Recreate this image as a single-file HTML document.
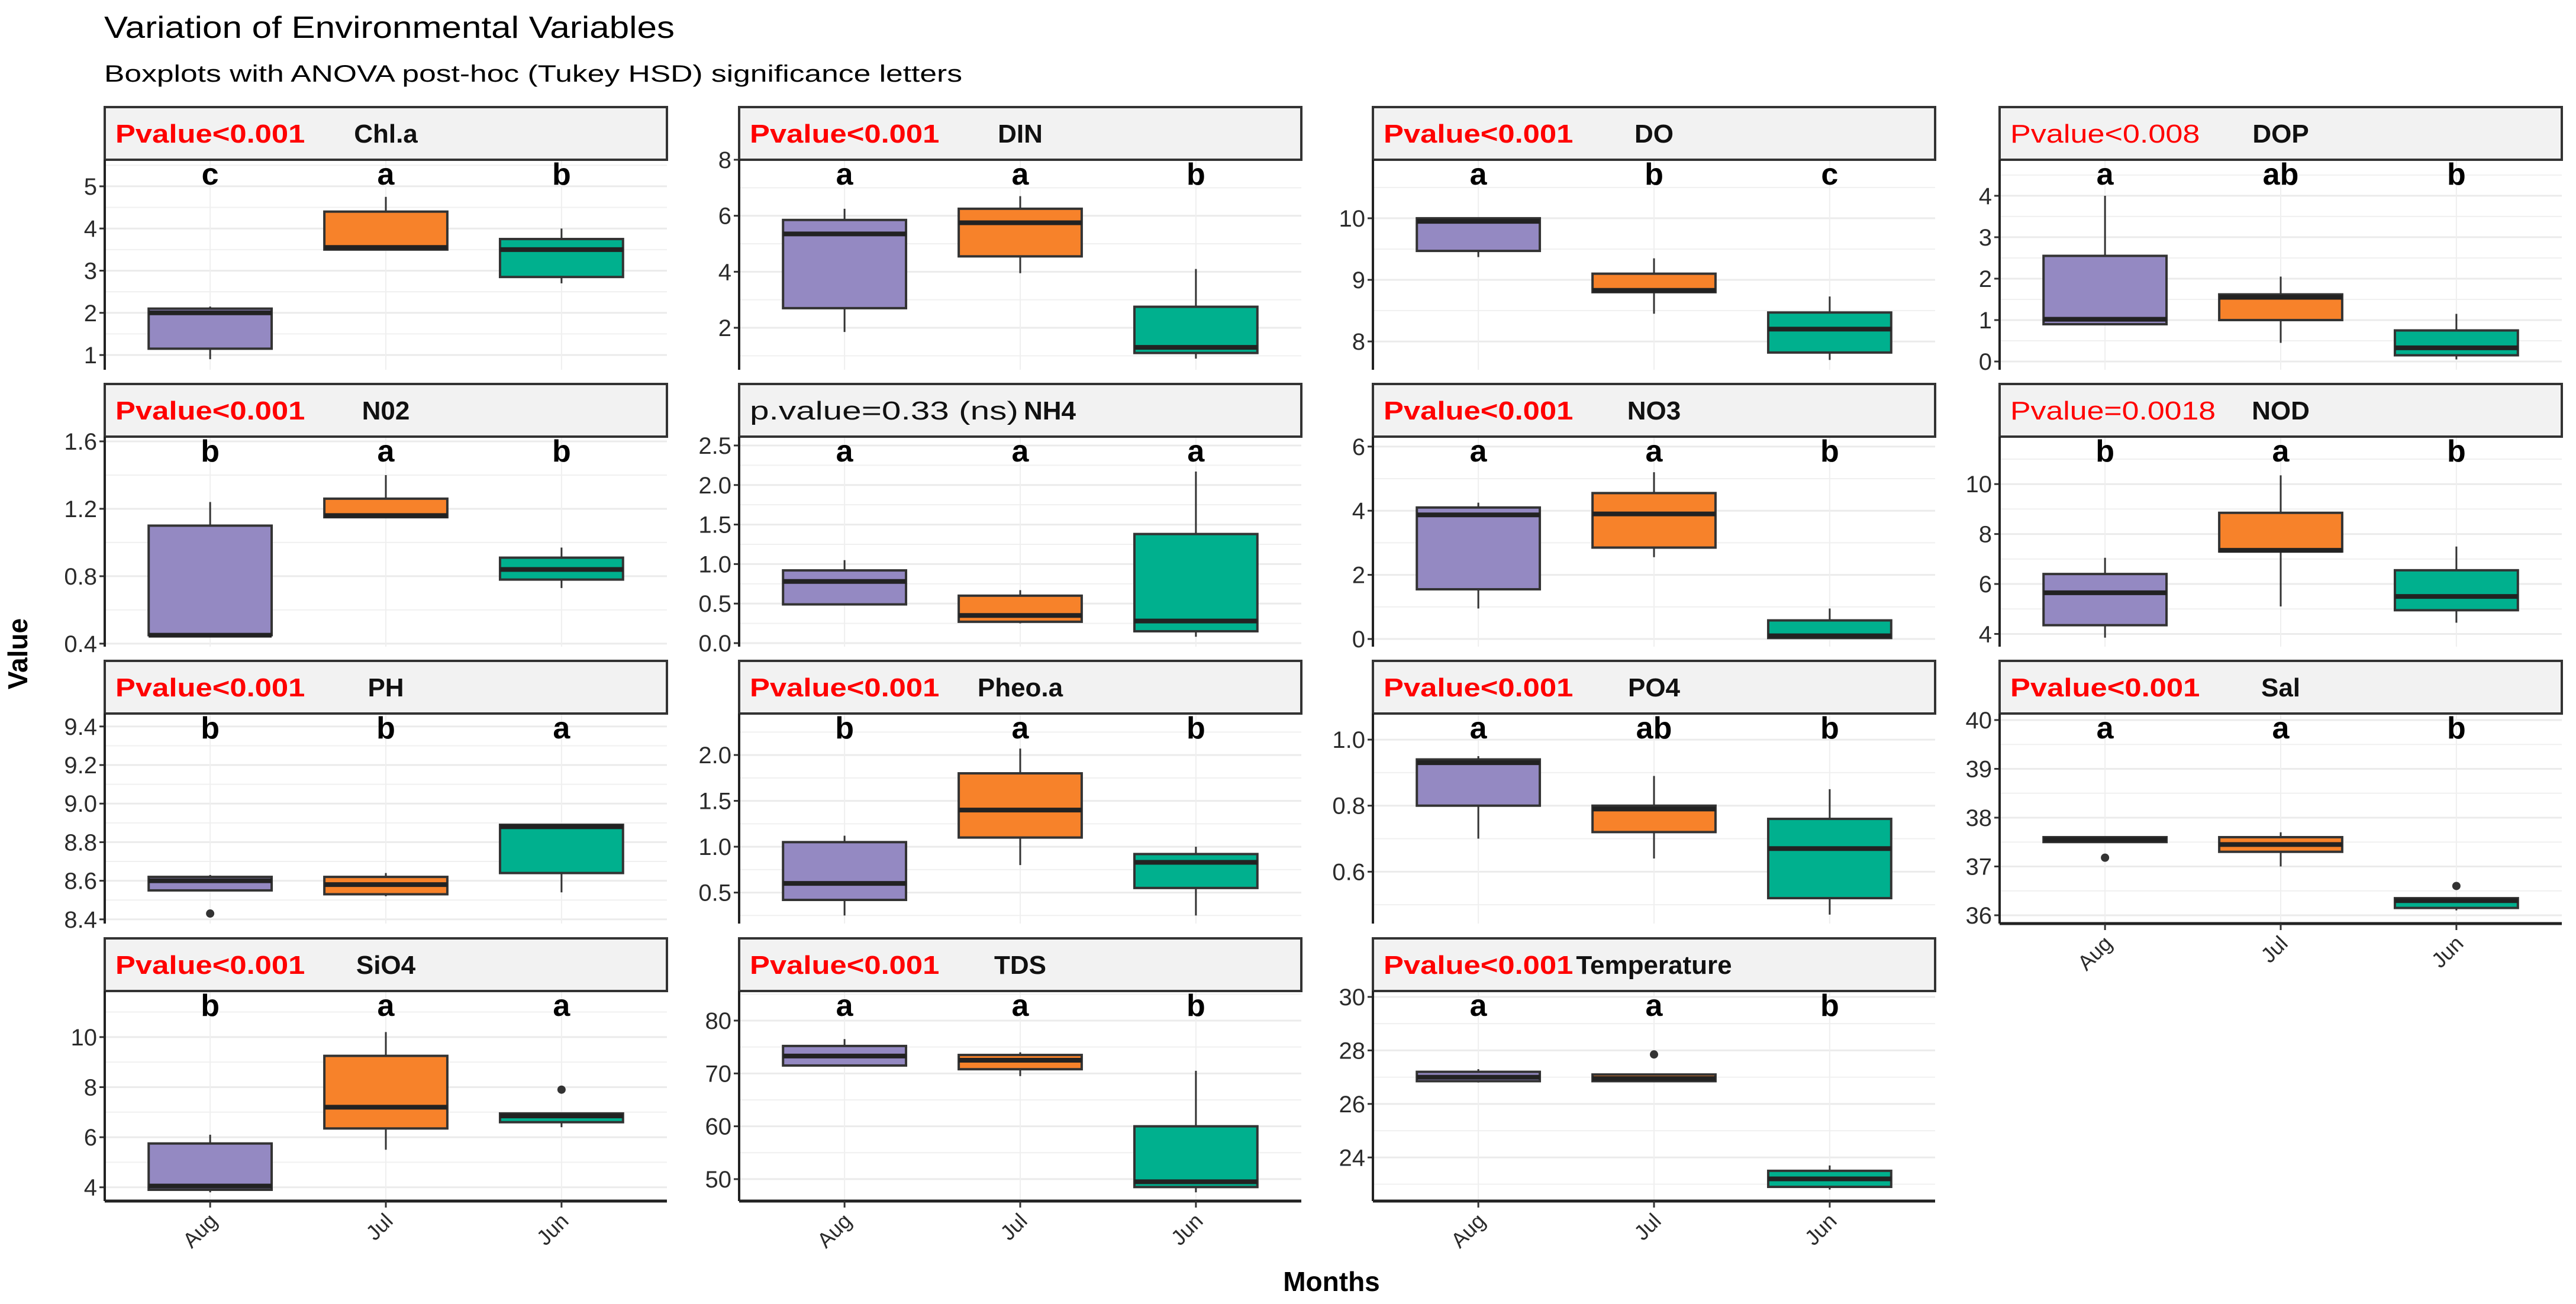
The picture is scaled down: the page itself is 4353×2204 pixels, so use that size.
<!DOCTYPE html>
<html><head><meta charset="utf-8"><title>Variation of Environmental Variables</title>
<style>html,body{margin:0;padding:0;background:#fff}svg{display:block}</style></head>
<body>
<svg id="chart" xmlns="http://www.w3.org/2000/svg" width="4353" height="2204" viewBox="0 0 4353 2204" font-family="Liberation Sans, Arial, sans-serif">
<rect width="4353" height="2204" fill="#fff"/>
<text x="176" y="64" font-size="52" textLength="964" lengthAdjust="spacingAndGlyphs" fill="#000">Variation of Environmental Variables</text>
<text x="176" y="138" font-size="40" textLength="1450" lengthAdjust="spacingAndGlyphs" fill="#000">Boxplots with ANOVA post-hoc (Tukey HSD) significance letters</text>
<text transform="translate(46,1105) rotate(-90)" text-anchor="middle" font-size="46" font-weight="bold" fill="#000">Value</text>
<text x="2250" y="2182" text-anchor="middle" font-size="46" font-weight="bold" fill="#000">Months</text>
<g id="panels"></g>
</svg>
<script>
// ---- data: categories and colors ----
const months = ["Aug", "Jul", "Jun"];
const fills = ["#9489C2", "#F7822A", "#00B08E"];
const variables = ["Chl.a","DIN","DO","DOP","N02","NH4","NO3","NOD","PH","Pheo.a","PO4","Sal","SiO4","TDS","Temperature"];
const pLabels = ["Pvalue<0.001","Pvalue<0.001","Pvalue<0.001","Pvalue<0.008","Pvalue<0.001","p.value=0.33 (ns)","Pvalue<0.001","Pvalue=0.0018","Pvalue<0.001","Pvalue<0.001","Pvalue<0.001","Pvalue<0.001","Pvalue<0.001","Pvalue<0.001","Pvalue<0.001"];
const pBold = [1,1,1,0,1,0,1,0,1,1,1,1,1,1,1];
const letters = [["c","a","b"],["a","a","b"],["a","b","c"],["a","ab","b"],["b","a","b"],["a","a","a"],["a","a","b"],["b","a","b"],["b","b","a"],["b","a","b"],["a","ab","b"],["a","a","b"],["b","a","a"],["a","a","b"],["a","a","b"]];
// box stats per variable: [whiskerLow, Q1, median, Q3, whiskerHigh] for Aug, Jul, Jun
const chlStats  = [[0.9,1.15,2.0,2.1,2.15],[3.5,3.5,3.55,4.4,4.75],[2.7,2.85,3.5,3.75,4.0]];
const dinStats  = [[1.85,2.7,5.35,5.85,6.25],[3.95,4.55,5.75,6.25,6.7],[0.9,1.1,1.3,2.75,4.1]];
const doStats   = [[9.37,9.47,9.95,10.0,10.0],[8.45,8.8,8.83,9.1,9.35],[7.7,7.82,8.2,8.47,8.73]];
const dopStats  = [[0.9,0.9,1.02,2.55,4.0],[0.45,1.0,1.55,1.62,2.05],[0.05,0.15,0.33,0.75,1.15]];
const no2Stats  = [[0.45,0.45,0.45,1.1,1.24],[1.15,1.15,1.16,1.26,1.4],[0.73,0.78,0.84,0.91,0.97]];
const nh4Stats  = [[0.48,0.49,0.78,0.92,1.05],[0.25,0.27,0.35,0.6,0.67],[0.08,0.15,0.28,1.38,2.17]];
const no3Stats  = [[0.95,1.55,3.87,4.1,4.25],[2.55,2.85,3.9,4.55,5.2],[0.0,0.03,0.1,0.58,0.95]];
const nodStats  = [[3.85,4.35,5.65,6.4,7.05],[5.1,7.3,7.35,8.85,10.35],[4.45,4.95,5.5,6.55,7.5]];
const phStats   = [[8.55,8.55,8.6,8.62,8.63],[8.52,8.53,8.58,8.62,8.64],[8.54,8.64,8.88,8.89,8.89]];
const pheoStats = [[0.25,0.42,0.6,1.05,1.12],[0.8,1.1,1.4,1.8,2.07],[0.25,0.55,0.83,0.92,1.0]];
const po4Stats  = [[0.7,0.8,0.93,0.94,0.95],[0.64,0.72,0.79,0.8,0.89],[0.47,0.52,0.67,0.76,0.85]];
const salStats  = [[37.5,37.5,37.55,37.6,37.6],[37.0,37.3,37.45,37.6,37.7],[36.1,36.15,36.3,36.35,36.35]];
const sio4Stats = [[3.8,3.9,4.05,5.75,6.1],[5.5,6.35,7.2,9.25,10.2],[6.4,6.6,6.85,6.95,6.95]];
const tdsStats  = [[71.5,71.5,73.3,75.2,76.5],[69.5,70.8,72.5,73.5,74.0],[47.5,48.5,49.5,60.0,70.5]];
const tempStats = [[26.8,26.85,27.0,27.2,27.3],[26.85,26.85,26.95,27.1,27.1],[22.8,22.9,23.2,23.5,23.7]];
const allStats = [chlStats,dinStats,doStats,dopStats,no2Stats,nh4Stats,no3Stats,nodStats,phStats,pheoStats,po4Stats,salStats,sio4Stats,tdsStats,tempStats];
// outliers: [variableIndex, monthIndex, value]
const outliers = [[8,0,8.43],[11,0,37.18],[11,2,36.6],[12,2,7.9],[14,1,27.85]];
// y-axis tick values and visible axis domain per variable
const yTicks = [[1,2,3,4,5],[2,4,6,8],[8,9,10],[0,1,2,3,4],[0.4,0.8,1.2,1.6],[0,0.5,1,1.5,2,2.5],[0,2,4,6],[4,6,8,10],[8.4,8.6,8.8,9.0,9.2,9.4],[0.5,1,1.5,2],[0.6,0.8,1.0],[36,37,38,39,40],[4,6,8,10],[50,60,70,80],[24,26,28,30]];
const tickDecimals = [0,0,0,0,1,1,0,0,1,1,1,0,0,0,0];
const yDomains = [[0.65,5.63],[0.5,8.0],[7.54,10.95],[-0.2,4.87],[0.382,1.628],[-0.045,2.612],[-0.24,6.31],[3.49,11.9],[8.378,9.467],[0.162,2.452],[0.443,1.079],[35.83,40.133],[3.45,11.84],[45.85,85.6],[22.37,30.22]];

// ---- layout ----
const colLeft = [177, 1249, 2320, 3379];
const rowTop = [181, 649, 1117, 1586];
const W = 950, stripH = 89, plotH = 355;
const NS = "http://www.w3.org/2000/svg";
const root = document.getElementById("panels");
function mk(tag, attrs, parent) {
  const e = document.createElementNS(NS, tag);
  for (const k in attrs) e.setAttribute(k, attrs[k]);
  (parent || root).appendChild(e);
  return e;
}
variables.forEach((v, idx) => {
  const col = idx % 4, row = Math.floor(idx / 4);
  const L = colLeft[col], ST = rowTop[row], T = ST + stripH, B = T + plotH;
  const slug = v.toLowerCase().replace(/[^a-z0-9]+/g, "-");
  const g = mk("g", {});
  
  
  const [d0, d1] = yDomains[idx];
  const y = val => B - (val - d0) / (d1 - d0) * plotH;
  const step = W / 3.2;
  const x = i => L + (i + 0.6) * step;
  // gridlines
  const tk = yTicks[idx];
  const dt = tk[1] - tk[0];
  for (let t = tk[0] - dt; t <= tk[tk.length - 1] + dt + 1e-9; t += dt) {
    const m = t + dt / 2, ym = y(m);
    if (ym > T && ym < B) mk("line", {x1: L, x2: L + W, y1: ym, y2: ym, stroke: "#f0f0f0", "stroke-width": 2}, g);
  }
  tk.forEach(t => {
    const yt = y(t);
    const gl = mk("line", {x1: L, x2: L + W, y1: yt, y2: yt, stroke: "#ebebeb", "stroke-width": 3}, g);
    
    
    mk("line", {x1: L - 9, x2: L, y1: yt, y2: yt, stroke: "#333", "stroke-width": 3}, g);
    const lab = mk("text", {x: L - 13, y: yt + 14, "text-anchor": "end", "font-size": 40, fill: "#2b2b2b"}, g);
    lab.textContent = t.toFixed(tickDecimals[idx]);
    
    
  });
  months.forEach((m, i) => mk("line", {x1: x(i), x2: x(i), y1: T, y2: B, stroke: "#efefef", "stroke-width": 2}, g));
  // strip
  const strip = mk("rect", {x: L, y: ST, width: W, height: stripH, fill: "#f2f2f2", stroke: "#333", "stroke-width": 4}, g);
  
  
  const pl = pLabels[idx];
  const pt = mk("text", {x: L + 18, y: ST + 60, "font-size": 44, fill: pl.startsWith("p.") ? "#111" : "#ff0000", "font-weight": pBold[idx] ? "bold" : "normal", textLength: pl.length * 26.7, lengthAdjust: "spacingAndGlyphs"}, g);
  pt.textContent = pl;
  
  
  const tt = mk("text", {x: L + W / 2 + (v === "NH4" ? 50 : 0), y: ST + 60, "text-anchor": "middle", "font-size": 44, "font-weight": "bold", fill: "#111"}, g);
  tt.textContent = v;
  
  
  // boxes
  const bw = 0.7 * step;
  allStats[idx].forEach((s, i) => {
    const cx = x(i);
    const wl = mk("line", {x1: cx, x2: cx, y1: y(s[0]), y2: y(s[4]), stroke: "#333", "stroke-width": 3}, g);
    
    
    const bx = mk("rect", {x: cx - bw / 2, y: y(s[3]), width: bw, height: Math.max(1, y(s[1]) - y(s[3])), fill: fills[i], stroke: "#333", "stroke-width": 4}, g);
    
    
    const md = mk("line", {x1: cx - bw / 2, x2: cx + bw / 2, y1: y(s[2]), y2: y(s[2]), stroke: "#222", "stroke-width": 8}, g);
    
    
    const lt = mk("text", {x: cx, y: T + 42, "text-anchor": "middle", "font-size": 52, "font-weight": "bold", fill: "#000"}, g);
    lt.textContent = letters[idx][i];
    
    
  });
  outliers.filter(o => o[0] === idx).forEach(o => {
    const c = mk("circle", {cx: x(o[1]), cy: y(o[2]), r: 7, fill: "#333"}, g);
    
    
  });
  // left axis
  mk("line", {x1: L, x2: L, y1: T, y2: B, stroke: "#222", "stroke-width": 4}, g);
  // bottom axis for panels with nothing below
  if (idx >= 11) {
    const ax = mk("line", {x1: L, x2: L + W, y1: B, y2: B, stroke: "#222", "stroke-width": 5}, g);
    
    
    months.forEach((m, i) => {
      mk("line", {x1: x(i), x2: x(i), y1: B, y2: B + 11, stroke: "#333", "stroke-width": 3}, g);
      const xl = mk("text", {transform: "translate(" + (x(i) + 14) + "," + (B + 36) + ") rotate(-45)", "text-anchor": "end", "font-size": 36, fill: "#2b2b2b"}, g);
      xl.textContent = m;
      
      
    });
  }
});
</script>
</body></html>
